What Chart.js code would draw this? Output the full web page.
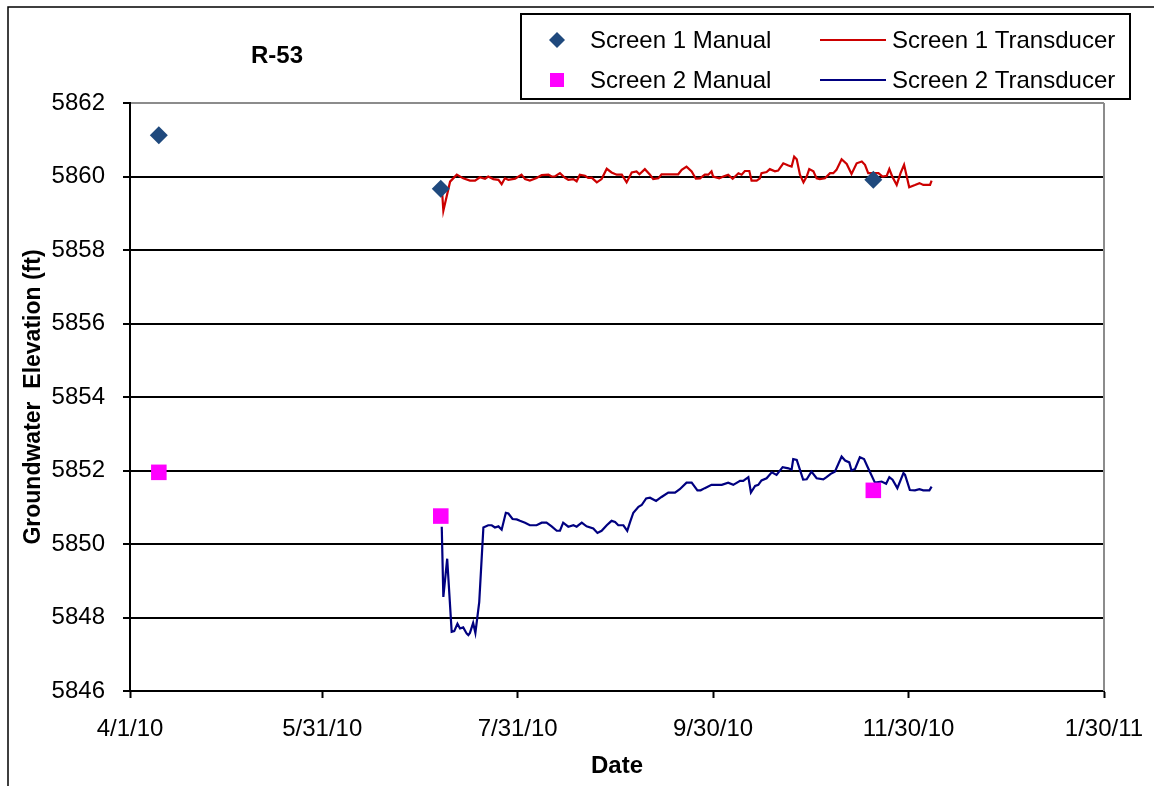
<!DOCTYPE html>
<html>
<head>
<meta charset="utf-8">
<title>R-53 Groundwater Elevation</title>
<script src="https://cdn.jsdelivr.net/npm/chart.js@4.4.0/dist/chart.umd.min.js"></script>
<style>
    html, body { margin: 0; padding: 0; background: #fff; }
</style>
</head>
<body>
<canvas id="chart" width="1154" height="786"></canvas>
<script>
// All x values are days since 4/1/10

// Manual measurements (same dates for both screens)
const manualDays = [9, 97, 232];
const screen1Manual = [5861.12, 5859.67, 5859.91];
const screen2Manual = [5851.95, 5850.76, 5851.46];

// Screen 1 transducer record
const screen1TransDays = [
    97.3, 97.8, 99.9, 102.0, 104.0, 106.1, 107.7, 109.2, 110.8, 111.8,
    113.4, 115.0, 116.0, 117.0, 118.1, 120.2, 122.2, 123.3, 124.8, 126.9,
    128.5, 130.6, 131.6, 132.6, 134.2, 135.8, 136.8, 138.4, 139.4, 140.4,
    142.0, 143.0, 144.1, 145.7, 147.2, 148.8, 150.3, 151.9, 153.5, 155.0,
    156.6, 158.1, 159.0, 160.7, 162.3, 163.3, 164.9, 165.9, 171.1, 172.2,
    173.7, 175.3, 176.6, 177.9, 179.4, 180.5, 181.5, 182.0, 183.9, 185.2,
    186.7, 188.1, 189.9, 190.9, 191.9, 193.3, 194.0, 195.6, 196.6, 197.1,
    198.7, 199.7, 201.3, 202.3, 203.9, 205.5, 206.5, 207.3, 208.1, 209.1,
    210.2, 211.2, 212.0, 213.3, 214.3, 215.3, 216.9, 218.5, 219.5, 220.5,
    222.1, 223.7, 225.2, 226.8, 228.4, 229.4, 230.4, 232.0, 233.6, 234.9,
    236.2, 237.0, 237.9, 239.3, 240.5, 241.6, 243.2, 245.0, 246.4, 247.6,
    249.7, 250.2
];
const screen1TransValues = [
    5859.73, 5859.07, 5859.86, 5860.05, 5859.95, 5859.89, 5859.89, 5859.98, 5859.94, 5860.00,
    5859.93, 5859.91, 5859.79, 5859.95, 5859.91, 5859.94, 5860.05, 5859.93, 5859.89, 5859.96,
    5860.04, 5860.05, 5860.00, 5860.00, 5860.09, 5859.96, 5859.91, 5859.93, 5859.87, 5860.05,
    5860.02, 5859.96, 5859.97, 5859.84, 5859.93, 5860.21, 5860.11, 5860.05, 5860.05, 5859.84,
    5860.11, 5860.14, 5860.06, 5860.20, 5860.05, 5859.93, 5859.95, 5860.06, 5860.06, 5860.18,
    5860.27, 5860.14, 5859.94, 5859.95, 5860.05, 5860.05, 5860.14, 5860.00, 5859.95, 5860.00,
    5860.05, 5859.94, 5860.09, 5860.05, 5860.15, 5860.15, 5859.89, 5859.89, 5859.95, 5860.09,
    5860.12, 5860.20, 5860.14, 5860.16, 5860.36, 5860.30, 5860.27, 5860.54, 5860.47, 5860.05,
    5859.84, 5860.00, 5860.20, 5860.14, 5859.95, 5859.93, 5859.95, 5860.09, 5860.09, 5860.18,
    5860.47, 5860.34, 5860.07, 5860.36, 5860.41, 5860.32, 5860.09, 5860.09, 5860.09, 5860.00,
    5860.02, 5860.20, 5860.00, 5859.77, 5860.09, 5860.32, 5859.71, 5859.77, 5859.82, 5859.77,
    5859.77, 5859.89
];

// Screen 2 transducer record
const screen2TransDays = [
    97.3, 97.8, 99.0, 100.4, 101.2, 102.2, 103.0, 104.0, 105.1, 105.6,
    106.1, 107.1, 107.8, 109.0, 110.3, 111.8, 112.9, 113.9, 115.0, 116.0,
    117.3, 118.1, 119.4, 120.7, 121.7, 123.3, 124.8, 126.9, 128.5, 130.0,
    131.6, 133.2, 134.2, 135.2, 136.8, 138.4, 139.4, 141.0, 142.5, 144.6,
    145.9, 147.2, 148.8, 150.3, 151.4, 152.4, 154.0, 155.2, 156.1, 157.1,
    158.7, 159.7, 161.1, 162.3, 164.2, 165.9, 168.0, 170.1, 171.6, 173.7,
    175.3, 177.1, 178.1, 179.4, 181.5, 184.7, 186.7, 188.3, 190.4, 191.4,
    193.0, 193.8, 195.1, 196.1, 197.1, 198.7, 200.3, 201.8, 203.7, 205.5,
    206.5, 207.0, 208.1, 210.1, 211.2, 212.7, 214.3, 216.4, 217.4, 218.7,
    220.0, 222.1, 223.2, 224.5, 225.2, 226.3, 227.8, 229.1, 230.4, 232.5,
    234.6, 236.0, 237.0, 238.0, 239.5, 241.4, 241.9, 243.4, 245.0, 246.4,
    247.6, 249.5, 250.2
];
const screen2TransValues = [
    5850.47, 5848.56, 5849.60, 5847.61, 5847.63, 5847.83, 5847.70, 5847.73, 5847.56, 5847.52,
    5847.58, 5847.85, 5847.58, 5848.42, 5850.45, 5850.51, 5850.51, 5850.45, 5850.48, 5850.39,
    5850.85, 5850.83, 5850.68, 5850.67, 5850.63, 5850.58, 5850.51, 5850.51, 5850.58, 5850.58,
    5850.48, 5850.36, 5850.36, 5850.58, 5850.47, 5850.51, 5850.47, 5850.58, 5850.48, 5850.42,
    5850.30, 5850.36, 5850.51, 5850.63, 5850.60, 5850.51, 5850.51, 5850.36, 5850.60, 5850.85,
    5851.01, 5851.06, 5851.24, 5851.26, 5851.17, 5851.28, 5851.40, 5851.40, 5851.49, 5851.67,
    5851.67, 5851.46, 5851.46, 5851.52, 5851.61, 5851.61, 5851.67, 5851.61, 5851.72, 5851.72,
    5851.82, 5851.40, 5851.58, 5851.61, 5851.73, 5851.79, 5851.95, 5851.88, 5852.09, 5852.06,
    5852.02, 5852.31, 5852.29, 5851.75, 5851.76, 5851.97, 5851.79, 5851.76, 5851.82, 5851.91,
    5851.97, 5852.38, 5852.27, 5852.22, 5852.00, 5852.04, 5852.36, 5852.31, 5852.06, 5851.67,
    5851.70, 5851.64, 5851.82, 5851.75, 5851.52, 5851.93, 5851.88, 5851.47, 5851.46, 5851.49,
    5851.46, 5851.46, 5851.56
];

// Date axis ticks
const xTickDays = [0, 60, 121, 182, 243, 304];
const xTickLabels = ['4/1/10', '5/31/10', '7/31/10', '9/30/10', '11/30/10', '1/30/11'];

const FONT = '"Liberation Sans", Arial, sans-serif';

// Turn two arrays into {x, y} points
function toPoints(xs, ys) {
    return xs.map((x, i) => ({ x: x, y: ys[i] }));
}

// White background, outer chart frame and grey plot border
const framePlugin = {
    id: 'frame',
    beforeDraw(chart) {
        const ctx = chart.ctx;
        ctx.save();
        ctx.fillStyle = '#fff';
        ctx.fillRect(0, 0, chart.width, chart.height);
        ctx.strokeStyle = '#000';
        ctx.lineWidth = 1.5;
        ctx.strokeRect(8, 7, chart.width + 20, chart.height + 20);
        ctx.restore();
    },
    beforeDatasetsDraw(chart) {
        const a = chart.chartArea;
        const ctx = chart.ctx;
        ctx.save();
        ctx.strokeStyle = '#8c8c8c';
        ctx.lineWidth = 2;
        ctx.beginPath();
        ctx.moveTo(a.right, a.top);
        ctx.lineTo(a.right, a.bottom);
        ctx.stroke();
        ctx.restore();
    }
};

// Well name and the boxed legend, drawn the way the spreadsheet had them
const labelPlugin = {
    id: 'labels',
    afterDraw(chart) {
        const ctx = chart.ctx;
        ctx.save();

        // Well name inside the plot
        ctx.fillStyle = '#000';
        ctx.font = 'bold 24px ' + FONT;
        ctx.textAlign = 'center';
        ctx.textBaseline = 'middle';
        ctx.fillText('R-53', 277, 56);

        // Legend box
        ctx.fillStyle = '#fff';
        ctx.fillRect(521, 14, 609, 85);
        ctx.strokeStyle = '#000';
        ctx.lineWidth = 2;
        ctx.strokeRect(521, 14, 609, 85);

        ctx.font = '24px ' + FONT;
        ctx.textAlign = 'left';
        chart.data.datasets.forEach((ds, i) => {
            const col = i < 2 ? 0 : 1;
            const y = i % 2 === 0 ? 40 : 80;
            if (col === 0) {
                const x = 557;
                ctx.fillStyle = ds.pointBackgroundColor;
                ctx.beginPath();
                if (ds.pointStyle === 'rectRot') {
                    const r = 8;
                    ctx.moveTo(x, y - r);
                    ctx.lineTo(x + r, y);
                    ctx.lineTo(x, y + r);
                    ctx.lineTo(x - r, y);
                    ctx.closePath();
                } else {
                    ctx.rect(x - 7, y - 7, 14, 14);
                }
                ctx.fill();
                ctx.fillStyle = '#000';
                ctx.fillText(ds.label, 590, y + 1);
            } else {
                ctx.strokeStyle = ds.borderColor;
                ctx.lineWidth = 2;
                ctx.beginPath();
                ctx.moveTo(820, y);
                ctx.lineTo(886, y);
                ctx.stroke();
                ctx.fillStyle = '#000';
                ctx.fillText(ds.label, 892, y + 1);
            }
        });
        ctx.restore();
    }
};

const ctx = document.getElementById('chart');

const chart = new Chart(ctx, {
    type: 'scatter',
    data: {
        datasets: [
            {
                label: 'Screen 1 Manual',
                data: toPoints(manualDays, screen1Manual),
                pointStyle: 'rectRot',
                pointRadius: 9,
                pointBackgroundColor: '#1F497D',
                pointBorderColor: '#1F497D',
                pointBorderWidth: 0,
                showLine: false
            },
            {
                label: 'Screen 2 Manual',
                data: toPoints(manualDays, screen2Manual),
                pointStyle: 'rect',
                pointRadius: 11,
                pointBackgroundColor: '#FF00FF',
                pointBorderColor: '#FF00FF',
                pointBorderWidth: 0,
                showLine: false
            },
            {
                label: 'Screen 1 Transducer',
                data: toPoints(screen1TransDays, screen1TransValues),
                showLine: true,
                borderColor: '#CC0000',
                borderWidth: 2.2,
                pointRadius: 0,
                tension: 0
            },
            {
                label: 'Screen 2 Transducer',
                data: toPoints(screen2TransDays, screen2TransValues),
                showLine: true,
                borderColor: '#000080',
                borderWidth: 2.2,
                pointRadius: 0,
                tension: 0
            }
        ]
    },
    options: {
        responsive: false,
        animation: false,
        layout: {
            padding: { top: 103, right: 50, bottom: 0, left: 0 }
        },
        plugins: {
            legend: { display: false },
            tooltip: { enabled: false }
        },
        scales: {
            x: {
                type: 'linear',
                min: 0,
                max: 304,
                afterBuildTicks: axis => {
                    axis.ticks = xTickDays.map(v => ({ value: v }));
                },
                afterFit: scale => {
                    scale.height = 95;
                    // let the layout padding decide the right edge
                    scale.paddingLeft = 0;
                    scale.paddingRight = 0;
                },
                border: { color: '#000', width: 2 },
                grid: {
                    drawOnChartArea: false,
                    drawTicks: true,
                    tickLength: 7,
                    tickColor: '#000',
                    tickWidth: 2
                },
                ticks: {
                    autoSkip: false,
                    maxRotation: 0,
                    padding: 17,
                    color: '#000',
                    font: { family: FONT, size: 24 },
                    callback: (value, index) => xTickLabels[index]
                },
                title: {
                    display: true,
                    text: 'Date',
                    color: '#000',
                    font: { family: FONT, size: 24, weight: 'bold' },
                    padding: { top: 0, bottom: 5 }
                }
            },
            y: {
                min: 5846,
                max: 5862,
                afterFit: scale => {
                    scale.width = 130;
                },
                border: { color: '#000', width: 2 },
                grid: {
                    color: c => (c.tick && c.tick.value === 5862 ? '#8c8c8c' : '#000'),
                    lineWidth: 2,
                    tickLength: 7,
                    tickColor: '#000'
                },
                ticks: {
                    stepSize: 2,
                    padding: 18,
                    color: '#000',
                    font: { family: FONT, size: 24 },
                    callback: value => String(value)
                },
                title: {
                    display: true,
                    text: 'Groundwater  Elevation (ft)',
                    color: '#000',
                    font: { family: FONT, size: 23, weight: 'bold' },
                    padding: { top: 20, bottom: 0 }
                }
            }
        }
    },
    plugins: [framePlugin, labelPlugin]
});
</script>
</body>
</html>
